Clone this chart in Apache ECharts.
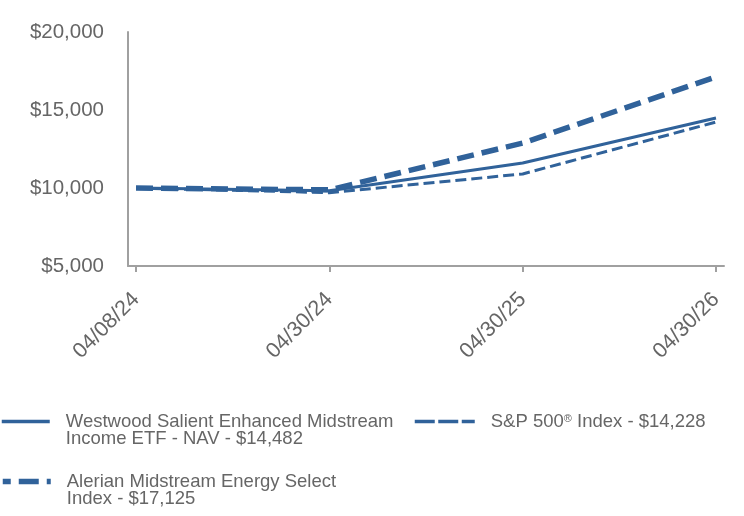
<!DOCTYPE html>
<html>
<head>
<meta charset="utf-8">
<script src="https://cdn.jsdelivr.net/npm/echarts@6/dist/echarts.min.js"></script>
<style>
html,body{margin:0;padding:0;background:#fff;}
#chart{width:744px;height:516px;}
</style>
</head>
<body>
<div id="chart"></div>
<script>
const categories = ['04/08/24', '04/30/24', '04/30/25', '04/30/26'];
const navValues = [10000, 9830, 11600, 14482];
const spValues = [10000, 9700, 10900, 14228];
const alerianValues = [10000, 9880, 12880, 17125];
const yTicks = [5000, 10000, 15000, 20000];
const seriesNames = [
  'Westwood Salient Enhanced Midstream\nIncome ETF - NAV - $14,482',
  'S&P 500® Index - $14,228',
  'Alerian Midstream Energy Select\nIndex - $17,125'
];

const COLOR = '#30629a';
const TEXT = '#666666';
const AXIS = '#a0a0a0';
const FONT = 'Liberation Sans, Arial, sans-serif';

function pairs(vals) { return vals.map((v, i) => [i, v]); }

const chart = echarts.init(document.getElementById('chart'), null, {renderer: 'canvas'});
const legendText = {color: TEXT, fontFamily: FONT, fontSize: 18.5, lineHeight: 17};
const hiddenSymbol = {opacity: 0, borderWidth: 0, color: 'transparent'};
chart.setOption({
  animation: false,
  grid: {left: 128, right: 20, top: 32, bottom: 250, containLabel: false},
  xAxis: {
    type: 'value',
    min: -0.0414,
    max: 3.0414,
    splitLine: {show: false},
    axisLine: {show: true, onZero: false, lineStyle: {color: AXIS, width: 2}},
    axisTick: {show: true, customValues: [0, 1, 2, 3], length: 6, lineStyle: {color: AXIS, width: 2}},
    axisLabel: {
      customValues: [0, 1, 2, 3],
      formatter: v => categories[Math.round(v)],
      rotate: 45, margin: 30, color: TEXT, fontFamily: FONT, fontSize: 21.5
    }
  },
  yAxis: {
    type: 'value', min: 5000, max: 20000, interval: 5000,
    splitLine: {show: false},
    axisLine: {show: true, onZero: false, lineStyle: {color: AXIS, width: 2}},
    axisTick: {show: false},
    axisLabel: {
      margin: 24, color: TEXT, fontFamily: FONT, fontSize: 20.5,
      formatter: v => '$' + v.toLocaleString('en-US')
    }
  },
  legend: [
    {
      data: [seriesNames[0]], left: 0, top: 395, padding: 0, itemWidth: 48, itemHeight: 14,
      itemStyle: hiddenSymbol,
      lineStyle: {width: 3.5, type: 'solid'},
      formatter: n => '\n' + n,
      textStyle: Object.assign({}, legendText, {padding: [0, 0, 0, 11]})
    },
    {
      data: [seriesNames[1]], left: 413, top: 412, padding: 0, itemWidth: 60, itemHeight: 14,
      itemStyle: hiddenSymbol,
      lineStyle: {width: 3.5, type: [20, 3.5]},
      textStyle: Object.assign({}, legendText, {padding: [0, 0, 0, 11],
        rich: {sup: {fontSize: 11, verticalAlign: 'top', color: TEXT, fontFamily: FONT, padding: [0, 0, 8, 0]}}}),
      formatter: n => n.replace('®', '{sup|®}')
    },
    {
      data: [seriesNames[2]], left: 0, top: 455, padding: 0, itemWidth: 48, itemHeight: 14,
      itemStyle: hiddenSymbol,
      lineStyle: {width: 5.5, type: [20, 8], dashOffset: 12},
      formatter: n => '\n' + n,
      textStyle: Object.assign({}, legendText, {padding: [0, 0, 0, 11]})
    }
  ],
  series: [
    {
      name: seriesNames[0], type: 'line', data: pairs(navValues), symbol: 'none',
      lineStyle: {color: COLOR, width: 3, type: 'solid'}, itemStyle: {color: COLOR}, z: 3
    },
    {
      name: seriesNames[1], type: 'line', data: pairs(spValues), symbol: 'none',
      lineStyle: {color: COLOR, width: 3, type: [11, 5]}, itemStyle: {color: COLOR}, z: 2
    },
    {
      name: seriesNames[2], type: 'line', data: pairs(alerianValues), symbol: 'none',
      lineStyle: {color: COLOR, width: 5.5, type: [17, 8]}, itemStyle: {color: COLOR}, z: 4
    }
  ]
});
</script>
</body>
</html>
